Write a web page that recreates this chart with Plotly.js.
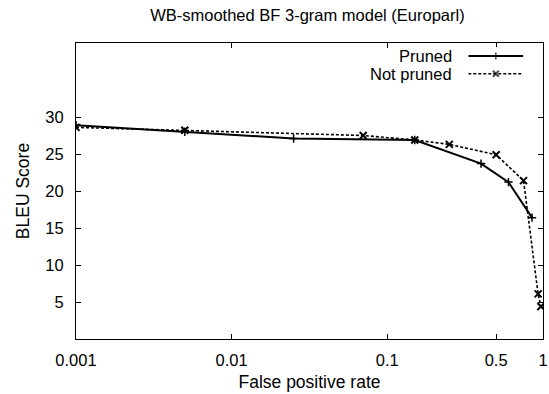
<!DOCTYPE html>
<html><head><meta charset="utf-8">
<script src="https://cdn.plot.ly/plotly-3.0.1.min.js"></script>
<style>html,body{margin:0;padding:0;background:#fff}#c{width:549px;height:394px}</style>
</head><body><div id="c"></div>
<script>
const prunedX = [0.001, 0.005, 0.025, 0.15, 0.4, 0.6, 0.85];
const prunedY = [28.9, 28.0, 27.1, 26.9, 23.7, 21.2, 16.4];
const notPrunedX = [0.001, 0.005, 0.07, 0.15, 0.25, 0.5, 0.75, 0.93, 0.97];
const notPrunedY = [28.6, 28.2, 27.5, 26.9, 26.3, 24.9, 21.4, 6.1, 4.4];
const seriesNames = ["Pruned", "Not pruned"];
const xTickVals = [0.001, 0.01, 0.1, 0.5, 1];
const xTickText = ["0.001", "0.01", "0.1", "0.5", "1"];
const yTickVals = [5, 10, 15, 20, 25, 30];

const font = "Liberation Sans, Arial, sans-serif";
const fs = 16.5;
const traces = [
  {x: prunedX, y: prunedY, mode: "lines+markers", name: seriesNames[0],
   line: {color: "#000", width: 2}, marker: {symbol: "cross-thin-open", size: 6, color: "#000", line: {width: 1.5, color: "#000"}}, showlegend: false},
  {x: notPrunedX, y: notPrunedY, mode: "lines+markers", name: seriesNames[1],
   line: {color: "#000", width: 1.6, dash: "3px,2px"}, marker: {symbol: "x-thin-open", size: 7, color: "#000", line: {width: 2, color: "#000"}}, showlegend: false},
  // legend samples on an overlay axis
  {x: [0, 0.5, 1], y: [0.5, 0.5, 0.5], xaxis: "x2", yaxis: "y2", mode: "lines+markers",
   line: {color: "#000", width: 2}, marker: {symbol: ["circle", "cross-thin-open", "circle"], size: [0, 5, 0], color: "#000", line: {width: 1.5, color: "#000"}}, showlegend: false, hoverinfo: "skip"},
  {x: [0, 0.5, 1], y: [-0.5, -0.5, -0.5], xaxis: "x2", yaxis: "y2", mode: "lines+markers",
   line: {color: "#000", width: 1.6, dash: "3px,2px"}, marker: {symbol: ["circle", "x-thin-open", "circle"], size: [0, 6, 0], color: "#000", line: {width: 2, color: "#000"}}, showlegend: false, hoverinfo: "skip"}
];
const layout = {
  width: 549, height: 394,
  margin: {l: 76, r: 6, t: 43, b: 55},
  paper_bgcolor: "#fff", plot_bgcolor: "#fff",
  font: {family: font, size: fs, color: "#000"},
  title: {text: "WB-smoothed BF 3-gram model (Europarl)", font: {family: font, size: fs, color: "#000"}, x: 0.56, xanchor: "center", y: 0.962, yanchor: "middle"},
  xaxis: {type: "log", range: [-3, 0], tickvals: xTickVals, ticktext: xTickText, ticks: "inside", ticklen: 5, tickcolor: "#000",
    showline: true, linecolor: "#000", linewidth: 1, mirror: "allticks", showgrid: false, zeroline: false, automargin: false,
    ticklabelstandoff: 6,
    tickfont: {family: font, size: fs}, title: {text: "False positive rate", font: {family: font, size: 17.5}, standoff: 7}},
  yaxis: {range: [0, 40], tickvals: yTickVals, ticks: "inside", ticklen: 5, tickcolor: "#000",
    showline: true, linecolor: "#000", linewidth: 1, mirror: "allticks", showgrid: false, zeroline: false, automargin: false,
    ticklabelstandoff: 8,
    tickfont: {family: font, size: fs}, title: {text: "BLEU Score", font: {family: font, size: 17.5}, standoff: 11}},
  xaxis2: {domain: [0.84, 0.958], range: [0, 1], visible: false, fixedrange: true},
  yaxis2: {domain: [0.866, 0.986], range: [-1, 1], visible: false, fixedrange: true, anchor: "x2"},
  annotations: [
    {text: seriesNames[0], xref: "paper", yref: "paper", x: 0.809, y: 0.957, xanchor: "right", yanchor: "middle", showarrow: false, font: {family: font, size: fs}},
    {text: seriesNames[1], xref: "paper", yref: "paper", x: 0.809, y: 0.895, xanchor: "right", yanchor: "middle", showarrow: false, font: {family: font, size: fs}}
  ]
};
Plotly.newPlot("c", traces, layout, {staticPlot: true});
</script></body></html>
